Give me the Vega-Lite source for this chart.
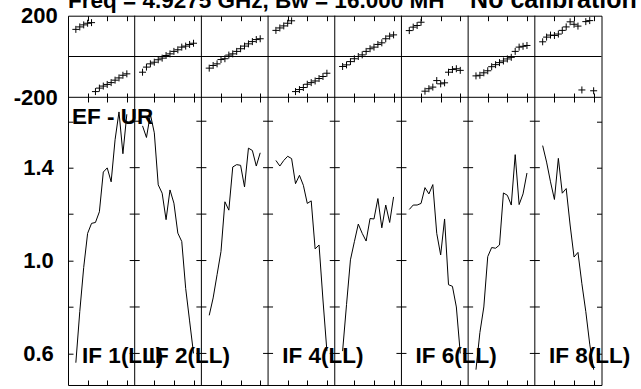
{
  "$schema": "https://vega.github.io/schema/vega-lite/v6.json",
  "autosize": "none",
  "width": 533.5,
  "height": 369.3,
  "padding": {"left": 68, "top": 15.7, "right": 39.5, "bottom": 4},
  "background": "white",
  "datasets": {
    "chans": [
      {"IF":1,"chan":2,"amp":0.56,"phase":133},{"IF":1,"chan":3,"amp":0.78,"phase":145},{"IF":1,"chan":4,"amp":0.97,"phase":155},{"IF":1,"chan":5,"amp":1.117,"phase":163},{"IF":1,"chan":6,"amp":1.16,"phase":166},{"IF":1,"chan":7,"amp":1.164,"phase":-172},{"IF":1,"chan":8,"amp":1.21,"phase":-155},{"IF":1,"chan":9,"amp":1.381,"phase":-145},{"IF":1,"chan":10,"amp":1.399,"phase":-137},{"IF":1,"chan":11,"amp":1.339,"phase":-128},{"IF":1,"chan":12,"amp":1.52,"phase":-116},{"IF":1,"chan":13,"amp":1.64,"phase":-105},{"IF":1,"chan":14,"amp":1.46,"phase":-92},{"IF":1,"chan":15,"amp":1.63,"phase":-85},
      {"IF":2,"chan":19,"amp":1.58,"phase":-77},{"IF":2,"chan":20,"amp":1.53,"phase":-52},{"IF":2,"chan":21,"amp":1.63,"phase":-36},{"IF":2,"chan":22,"amp":1.55,"phase":-28},{"IF":2,"chan":23,"amp":1.326,"phase":-16},{"IF":2,"chan":24,"amp":1.29,"phase":-8},{"IF":2,"chan":25,"amp":1.176,"phase":5},{"IF":2,"chan":26,"amp":1.304,"phase":13},{"IF":2,"chan":27,"amp":1.247,"phase":25},{"IF":2,"chan":28,"amp":1.118,"phase":33},{"IF":2,"chan":29,"amp":1.082,"phase":46},{"IF":2,"chan":30,"amp":0.88,"phase":51},{"IF":2,"chan":31,"amp":0.74,"phase":59},{"IF":2,"chan":32,"amp":0.6,"phase":65},
      {"IF":3,"chan":36,"amp":0.764,"phase":-57},{"IF":3,"chan":37,"amp":0.839,"phase":-44},{"IF":3,"chan":38,"amp":0.939,"phase":-36},{"IF":3,"chan":39,"amp":1.039,"phase":-15},{"IF":3,"chan":40,"amp":1.253,"phase":-11},{"IF":3,"chan":41,"amp":1.217,"phase":7},{"IF":3,"chan":42,"amp":1.403,"phase":13},{"IF":3,"chan":43,"amp":1.413,"phase":25},{"IF":3,"chan":44,"amp":1.41,"phase":38},{"IF":3,"chan":45,"amp":1.317,"phase":51},{"IF":3,"chan":46,"amp":1.484,"phase":62},{"IF":3,"chan":47,"amp":1.474,"phase":73},{"IF":3,"chan":48,"amp":1.407,"phase":83},{"IF":3,"chan":49,"amp":1.464,"phase":87},
      {"IF":4,"chan":53,"amp":1.431,"phase":128},{"IF":4,"chan":54,"amp":1.407,"phase":140},{"IF":4,"chan":55,"amp":1.431,"phase":150},{"IF":4,"chan":56,"amp":1.449,"phase":163},{"IF":4,"chan":57,"amp":1.439,"phase":175},{"IF":4,"chan":58,"amp":1.331,"phase":-172},{"IF":4,"chan":59,"amp":1.367,"phase":-162},{"IF":4,"chan":60,"amp":1.324,"phase":-152},{"IF":4,"chan":61,"amp":1.246,"phase":-136},{"IF":4,"chan":62,"amp":1.257,"phase":-128},{"IF":4,"chan":63,"amp":1.05,"phase":-120},{"IF":4,"chan":64,"amp":1.067,"phase":-108},{"IF":4,"chan":65,"amp":0.83,"phase":-98},{"IF":4,"chan":66,"amp":0.61,"phase":-82},
      {"IF":5,"chan":70,"amp":0.61,"phase":-49},{"IF":5,"chan":71,"amp":0.81,"phase":-41},{"IF":5,"chan":72,"amp":1.003,"phase":-25},{"IF":5,"chan":73,"amp":1.081,"phase":-11},{"IF":5,"chan":74,"amp":1.157,"phase":0},{"IF":5,"chan":75,"amp":1.117,"phase":8},{"IF":5,"chan":76,"amp":1.084,"phase":25},{"IF":5,"chan":77,"amp":1.181,"phase":38},{"IF":5,"chan":78,"amp":1.179,"phase":46},{"IF":5,"chan":79,"amp":1.267,"phase":59},{"IF":5,"chan":80,"amp":1.141,"phase":67},{"IF":5,"chan":81,"amp":1.239,"phase":87},{"IF":5,"chan":82,"amp":1.164,"phase":100},{"IF":5,"chan":83,"amp":1.274,"phase":106},
      {"IF":6,"chan":87,"amp":1.22,"phase":127},{"IF":6,"chan":88,"amp":1.239,"phase":144},{"IF":6,"chan":89,"amp":1.239,"phase":152},{"IF":6,"chan":90,"amp":1.246,"phase":168},{"IF":6,"chan":91,"amp":1.314,"phase":-170},{"IF":6,"chan":92,"amp":1.287,"phase":-158},{"IF":6,"chan":93,"amp":1.327,"phase":-150},{"IF":6,"chan":94,"amp":1.117,"phase":-118},{"IF":6,"chan":95,"amp":1.024,"phase":-134},{"IF":6,"chan":96,"amp":1.179,"phase":-129},{"IF":6,"chan":97,"amp":0.896,"phase":-77},{"IF":6,"chan":98,"amp":0.889,"phase":-64},{"IF":6,"chan":99,"amp":0.8,"phase":-60},{"IF":6,"chan":100,"amp":0.6,"phase":-68},
      {"IF":7,"chan":104,"amp":0.53,"phase":-95},{"IF":7,"chan":105,"amp":0.69,"phase":-92},{"IF":7,"chan":106,"amp":0.8,"phase":-80},{"IF":7,"chan":107,"amp":1.017,"phase":-70},{"IF":7,"chan":108,"amp":1.056,"phase":-50},{"IF":7,"chan":109,"amp":1.053,"phase":-40},{"IF":7,"chan":110,"amp":1.067,"phase":-30},{"IF":7,"chan":111,"amp":1.291,"phase":-22},{"IF":7,"chan":112,"amp":1.281,"phase":-12},{"IF":7,"chan":113,"amp":1.239,"phase":-4},{"IF":7,"chan":114,"amp":1.456,"phase":25},{"IF":7,"chan":115,"amp":1.241,"phase":46},{"IF":7,"chan":116,"amp":1.287,"phase":50},{"IF":7,"chan":117,"amp":1.377,"phase":54},
      {"IF":8,"chan":121,"amp":1.495,"phase":72},{"IF":8,"chan":122,"amp":1.424,"phase":95},{"IF":8,"chan":123,"amp":1.339,"phase":105},{"IF":8,"chan":124,"amp":1.263,"phase":103},{"IF":8,"chan":125,"amp":1.44,"phase":110},{"IF":8,"chan":126,"amp":1.29,"phase":128},{"IF":8,"chan":127,"amp":1.31,"phase":145},{"IF":8,"chan":128,"amp":1.153,"phase":170},{"IF":8,"chan":129,"amp":1.015,"phase":158},{"IF":8,"chan":130,"amp":1.035,"phase":149},{"IF":8,"chan":131,"amp":0.9,"phase":-164},{"IF":8,"chan":132,"amp":0.78,"phase":171},{"IF":8,"chan":133,"amp":0.64,"phase":176},{"IF":8,"chan":134,"amp":0.53,"phase":-168}
    ],
    "seps": [{"chan":17},{"chan":34},{"chan":51},{"chan":68},{"chan":85},{"chan":102},{"chan":119}],
    "ampticks": [
      {"v":0.6,"s":[17,34,51,68,85,102,119]},{"v":0.8,"s":[17,34,51,68,85,102,119]},{"v":1.0,"s":[17,34,51,68,85,102,119]},
      {"v":1.2,"s":[17,34,51,68,85,102,119]},{"v":1.4,"s":[17,34,51,68,85,102,119]},{"v":1.6,"s":[17,34,51,68,85,102,119]}
    ],
    "labels": [
      {"chan":3.6,"label":"IF 1(LL)"},{"chan":20.6,"label":"IF 2(LL)"},{"chan":54.6,"label":"IF 4(LL)"},{"chan":88.6,"label":"IF 6(LL)"},{"chan":122.6,"label":"IF 8(LL)"}
    ],
    "titles": [
      {"part":"freq","label":"Freq = 4.9275 GHz, Bw = 16.000 MH"},
      {"part":"cal","label":"No calibration"}
    ]
  },
  "layer": [
    {
      "data": {"name": "seps"},
      "mark": {"type": "rule", "color": "black", "strokeWidth": 1},
      "encoding": {
        "x": {"field": "chan", "type": "quantitative", "scale": {"domain": [0, 136]},
              "axis": {"orient": "top", "offset": -86.3, "tickSize": 9, "values": [5,10,15,22,27,32,39,44,49,56,61,66,73,78,83,90,95,100,107,112,117,124,129,134], "labels": false, "domain": false, "grid": false, "title": null}}
      }
    },
    {
      "data": {"values": [{"p": 0}, {"p": -200}]},
      "mark": {"type": "rule", "color": "black", "strokeWidth": 1},
      "encoding": {
        "y": {"field": "p", "type": "quantitative", "scale": {"domain": [-200, 200], "range": [81.6, 0]}, "axis": null}
      }
    },
    {
      "data": {"name": "chans"},
      "mark": {"type": "point", "shape": "M-1,0L1,0M0,-1L0,1", "size": 49, "filled": false, "color": "black", "strokeWidth": 1, "opacity": 1},
      "encoding": {
        "x": {"field": "chan", "type": "quantitative", "scale": {"domain": [0, 136]},
              "axis": {"orient": "top", "tickSize": -5, "values": [5,10,15,22,27,32,39,44,49,56,61,66,73,78,83,90,95,100,107,112,117,124,129,134], "labels": false, "domain": false, "grid": false, "title": null}},
        "y": {"field": "phase", "type": "quantitative", "scale": {"domain": [-200, 200], "range": [81.6, 0]},
              "axis": {"orient": "left", "values": [-200, 200], "labelExpr": "datum.value < 0 ? '-' + abs(datum.value) : '' + datum.value", "ticks": false, "labelPadding": 10.7, "domain": false, "grid": false, "title": null}}
      }
    },
    {
      "data": {"name": "chans"},
      "mark": {"type": "line", "color": "black", "strokeWidth": 1},
      "encoding": {
        "x": {"field": "chan", "type": "quantitative", "scale": {"domain": [0, 136]},
              "axis": {"orient": "bottom", "tickSize": -5, "values": [5,10,15,22,27,32,39,44,49,56,61,66,73,78,83,90,95,100,107,112,117,124,129,134], "labels": false, "domain": false, "grid": false, "title": null}},
        "y": {"field": "amp", "type": "quantitative", "scale": {"domain": [0.464, 1.703], "range": [369.3, 81.6], "zero": false},
              "axis": {"orient": "left", "values": [0.6, 0.8, 1.0, 1.2, 1.4, 1.6], "labelExpr": "(abs(datum.value-0.6)<0.01 || abs(datum.value-1.0)<0.01 || abs(datum.value-1.4)<0.01) ? format(datum.value, '.1f') : ''", "tickSize": -5, "labelPadding": 19.7, "domain": false, "grid": false, "title": null}},
        "detail": {"field": "IF", "type": "nominal"}
      }
    },
    {
      "data": {"name": "ampticks"},
      "transform": [{"flatten": ["s"]}],
      "mark": {"type": "tick", "orient": "horizontal", "size": 10, "thickness": 1, "color": "black", "opacity": 1},
      "encoding": {
        "x": {"field": "s", "type": "quantitative", "scale": {"domain": [0, 136]}, "axis": null},
        "y": {"field": "v", "type": "quantitative", "scale": {"domain": [0.464, 1.703], "range": [369.3, 81.6], "zero": false},
              "axis": {"orient": "right", "values": [0.6, 0.8, 1.0, 1.2, 1.4, 1.6], "tickSize": -5, "labels": false, "domain": false, "grid": false, "title": null}}
      }
    },
    {
      "data": {"name": "labels"},
      "mark": {"type": "text", "align": "left", "baseline": "alphabetic", "fontSize": 22.5, "fontWeight": "bold", "font": "Liberation Sans", "color": "black"},
      "encoding": {
        "x": {"field": "chan", "type": "quantitative", "scale": {"domain": [0, 136]}, "axis": null},
        "y": {"datum": 0.56, "type": "quantitative", "scale": {"domain": [0.464, 1.703], "range": [369.3, 81.6], "zero": false}, "axis": null},
        "text": {"field": "label"}
      }
    },
    {
      "data": {"values": [{"label": "EF - UR"}]},
      "mark": {"type": "text", "align": "left", "baseline": "alphabetic", "fontSize": 22.5, "fontWeight": "bold", "font": "Liberation Sans", "color": "black"},
      "encoding": {
        "x": {"datum": 1.0, "type": "quantitative", "scale": {"domain": [0, 136]}, "axis": null},
        "y": {"datum": 1.588, "type": "quantitative", "scale": {"domain": [0.464, 1.703], "range": [369.3, 81.6], "zero": false}, "axis": null},
        "text": {"field": "label"}
      }
    },
    {
      "data": {"name": "titles"},
      "transform": [{"filter": "datum.part == 'freq'"}],
      "mark": {"type": "text", "align": "left", "baseline": "alphabetic", "fontSize": 22.5, "fontWeight": "bold", "font": "Liberation Sans", "color": "black"},
      "encoding": {
        "x": {"datum": 0.0, "type": "quantitative", "scale": {"domain": [0, 136]}, "axis": null},
        "y": {"datum": 237.7, "type": "quantitative", "scale": {"domain": [-200, 200], "range": [81.6, 0]}, "axis": null},
        "text": {"field": "label"}
      }
    },
    {
      "data": {"name": "titles"},
      "transform": [{"filter": "datum.part == 'cal'"}],
      "mark": {"type": "text", "align": "right", "baseline": "alphabetic", "fontSize": 25, "fontWeight": "bold", "font": "Liberation Sans", "color": "black"},
      "encoding": {
        "x": {"datum": 145, "type": "quantitative", "scale": {"domain": [0, 136]}, "axis": null},
        "y": {"datum": 237.7, "type": "quantitative", "scale": {"domain": [-200, 200], "range": [81.6, 0]}, "axis": null},
        "text": {"field": "label"}
      }
    }
  ],
  "resolve": {"scale": {"y": "independent"}, "axis": {"x": "independent", "y": "independent"}},
  "config": {
    "view": {"stroke": "black", "strokeWidth": 1},
    "axis": {"labelFont": "Liberation Sans", "labelFontSize": 22, "labelFontWeight": "bold", "labelColor": "black", "tickColor": "black", "tickWidth": 1}
  }
}
